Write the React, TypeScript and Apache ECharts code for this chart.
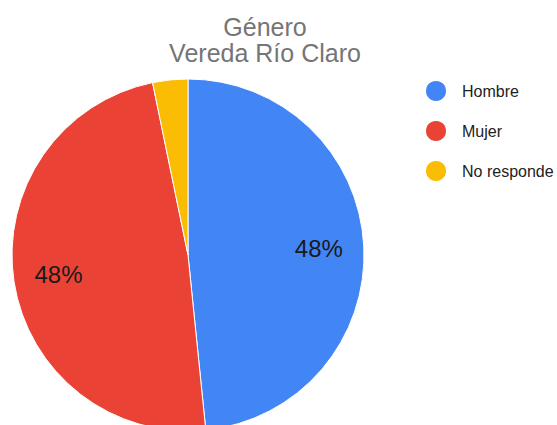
import React, { useEffect, useRef } from "react";
import * as echarts from "echarts";

const categories = ["Hombre", "Mujer", "No responde"];
const values = [15, 15, 1];
const colors = ["#4285F4", "#EA4335", "#FBBC04"];
const titleLines = ["Género", "Vereda Río Claro"];

const FONT = "'Liberation Sans', Arial, sans-serif";

export default function App() {
  const ref = useRef<HTMLDivElement>(null);
  useEffect(() => {
    if (!ref.current) return;
    const chart = echarts.init(ref.current, undefined, { renderer: "svg" });
    const total = values.reduce((a, b) => a + b, 0);
    const data = categories.map((name, i) => ({
      name,
      value: values[i],
      itemStyle: { color: colors[i] },
    }));
    const labelData = categories.map((name, i) => ({
      name,
      value: values[i],
      label: { show: values[i] / total > 0.05 },
    }));
    chart.setOption({
      animation: false,
      backgroundColor: "#ffffff",
      title: titleLines.map((t, i) => ({
        text: t,
        left: 265,
        textAlign: "center",
        top: 14 + i * 26,
        padding: 0,
        textStyle: {
          fontFamily: FONT,
          fontSize: 25,
          fontWeight: "normal",
          color: "#757575",
          lineHeight: 25,
        },
      })),
      legend: {
        orient: "vertical",
        left: 419,
        top: 74,
        icon: "circle",
        itemWidth: 22,
        itemHeight: 22,
        itemGap: 16,
        data: categories,
        textStyle: {
          fontFamily: FONT,
          fontSize: 16,
          color: "#222222",
          padding: [0, 0, 0, 10],
        },
      },
      series: [
        {
          type: "pie",
          center: [188, 255],
          radius: [0, 176],
          startAngle: 90,
          clockwise: true,
          silent: true,
          label: { show: false },
          labelLine: { show: false },
          itemStyle: { borderColor: "#ffffff", borderWidth: 1 },
          data,
        },
        {
          type: "pie",
          center: [188, 255],
          radius: [80, 176],
          startAngle: 90,
          clockwise: true,
          silent: true,
          itemStyle: { color: "rgba(0,0,0,0)", borderWidth: 0 },
          label: {
            position: "inside",
            formatter: (p: any) => Math.round((p.value / total) * 100) + "%",
            fontFamily: FONT,
            fontSize: 24,
            color: "#1a1a1a",
          },
          labelLine: { show: false },
          data: labelData,
        },
      ],
    });
    return () => chart.dispose();
  }, []);
  return (
    <div
      ref={ref}
      style={{ position: "fixed", left: 0, top: 0, width: 557, height: 425 }}
    />
  );
}
